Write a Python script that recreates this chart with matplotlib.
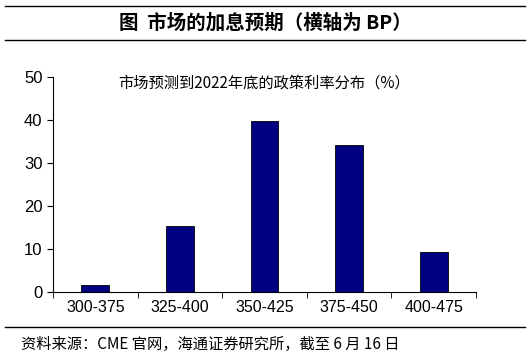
import matplotlib.pyplot as plt
import numpy as np

plt.rcParams['font.family'] = ['Noto Sans CJK SC', 'DejaVu Sans']

categories = ['300-375', '325-400', '350-425', '375-450', '400-475']
values = [1.6, 15.3, 39.8, 34.1, 9.2]

fig = plt.figure(figsize=(5.30, 3.61), dpi=100)
ax = fig.add_axes([0.1, 0.191, 0.798, 0.596])

x = np.arange(len(categories))
ax.bar(x, values, width=0.33, color='#000080', edgecolor='black', linewidth=0.6)

ax.set_xlim(-0.5, len(categories) - 0.5)
ax.set_ylim(0, 50)
ax.set_yticks(range(0, 51, 10))
ax.set_xticks(x)
ax.set_xticklabels(categories, fontsize=11.5, family=['Liberation Sans', 'DejaVu Sans'])
ax.set_xticks(np.arange(-0.5, len(categories)), minor=True)
ax.tick_params(axis='x', which='major', length=0, pad=6)
ax.tick_params(axis='x', which='minor', length=4, direction='out')
ax.tick_params(axis='y', length=4, direction='out', labelsize=12)
for lab in ax.get_yticklabels():
    lab.set_family(['Liberation Sans', 'DejaVu Sans'])
for s in ['top', 'right']:
    ax.spines[s].set_visible(False)

ax.text(0.5, 0.97, '市场预测到2022年底的政策利率分布（%）', transform=ax.transAxes,
        ha='center', va='center', fontsize=11)

fig.add_artist(plt.Line2D([0.01, 0.99], [0.983, 0.983], color='black', lw=1))
fig.add_artist(plt.Line2D([0.01, 0.99], [0.89, 0.89], color='black', lw=1))
fig.text(0.5, 0.937, '图  市场的加息预期（横轴为 BP）', ha='center', va='center',
         fontsize=14, fontweight='bold')

fig.add_artist(plt.Line2D([0.01, 0.99], [0.094, 0.094], color='black', lw=1))
fig.text(0.04, 0.045, '资料来源：CME 官网，海通证券研究所，截至 6 月 16 日',
         ha='left', va='center', fontsize=11)

fig.savefig('out.png', dpi=100)
